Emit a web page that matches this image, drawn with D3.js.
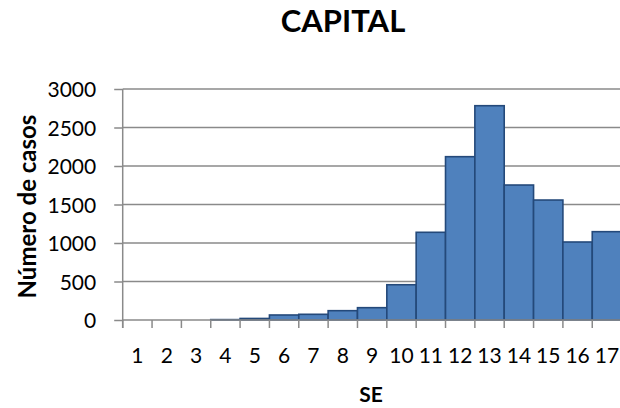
<!DOCTYPE html>
<html>
<head>
<meta charset="utf-8">
<script src="https://cdn.jsdelivr.net/npm/d3@7"></script>
<style>
  html, body { margin: 0; padding: 0; background: #fff; }
  svg { display: block; font-family: Lato, "Open Sans", sans-serif; }
</style>
</head>
<body>
<svg id="chart" width="620" height="408"></svg>
<script>
const categories = ["1","2","3","4","5","6","7","8","9","10","11","12","13","14","15","16","17"];
const values = [0, 0, 0, 5, 20, 65, 74, 121, 160, 458, 1139, 2121, 2783, 1753, 1558, 1013, 1147];
const yTicks = [0, 500, 1000, 1500, 2000, 2500, 3000];
const title = "CAPITAL";
const xTitle = "SE";
const yTitle = "Número de casos";

(function () {
const svg = d3.select("#chart");
const pLeft = 122.7, pRight = 621.6, pTop = 89, pBottom = 320;

const x = d3.scaleBand().domain(categories).range([pLeft, pRight]).padding(0);
const y = d3.scaleLinear().domain([0, 3000]).range([pBottom, pTop]);

const gridColor = "#8a8a8a";

// gridlines
svg.append("g").selectAll("line").data(yTicks.filter(d => d > 0)).join("line")
  .attr("x1", pLeft).attr("x2", 620)
  .attr("y1", d => y(d)).attr("y2", d => y(d))
  .attr("stroke", gridColor).attr("stroke-width", 1.5);

// bars
svg.append("g").selectAll("rect").data(values).join("rect")
  .attr("x", (d, i) => x(categories[i]))
  .attr("width", x.bandwidth())
  .attr("y", d => y(d))
  .attr("height", d => y(0) - y(d))
  .attr("fill", "#4f81bd")
  .attr("stroke", "#24497a")
  .attr("stroke-width", 1.6);

// y axis
const yAxis = svg.append("g").attr("transform", `translate(${pLeft},0)`)
  .call(d3.axisLeft(y).tickValues(yTicks).tickSize(8.5).tickPadding(18).tickFormat(d3.format("d")));
yAxis.select(".domain").remove();
yAxis.selectAll(".tick line").attr("stroke", gridColor).attr("stroke-width", 1.5);
yAxis.selectAll(".tick text").attr("font-size", 21).attr("fill", "#000")
  .attr("font-family", "Lato, sans-serif").attr("dy", "0.36em");
svg.append("line").attr("x1", pLeft).attr("x2", pLeft).attr("y1", pTop).attr("y2", pBottom + 8)
  .attr("stroke", gridColor).attr("stroke-width", 1.5);

// x axis
const xAxis = svg.append("g").attr("transform", `translate(0,${pBottom})`)
  .call(d3.axisBottom(x).tickSize(0).tickPadding(28));
xAxis.select(".domain").remove();
xAxis.selectAll(".tick line").remove();
xAxis.selectAll(".tick text").attr("font-size", 21).attr("fill", "#000")
  .attr("font-family", "Lato, sans-serif");
// x tick marks at band boundaries
const bounds = categories.map(c => x(c));
svg.append("g").selectAll("line").data(bounds).join("line")
  .attr("x1", d => d).attr("x2", d => d).attr("y1", pBottom).attr("y2", pBottom + 8)
  .attr("stroke", gridColor).attr("stroke-width", 1.5);
svg.append("line").attr("x1", pLeft).attr("x2", 620).attr("y1", pBottom).attr("y2", pBottom)
  .attr("stroke", gridColor).attr("stroke-width", 1.5);

// titles
svg.append("text").attr("x", 343).attr("y", 31.7).attr("text-anchor", "middle")
  .attr("font-size", 31).attr("font-weight", "bold").attr("fill", "#000").text(title);
svg.append("text").attr("x", 371).attr("y", 402).attr("text-anchor", "middle")
  .attr("font-size", 21).attr("font-weight", "bold").attr("fill", "#000").text(xTitle);
svg.append("text").attr("transform", "translate(36,206.5) rotate(-90)")
  .attr("text-anchor", "middle")
  .attr("font-size", 24).attr("font-weight", "bold").attr("fill", "#000").text(yTitle);
})();
</script>
</body>
</html>
